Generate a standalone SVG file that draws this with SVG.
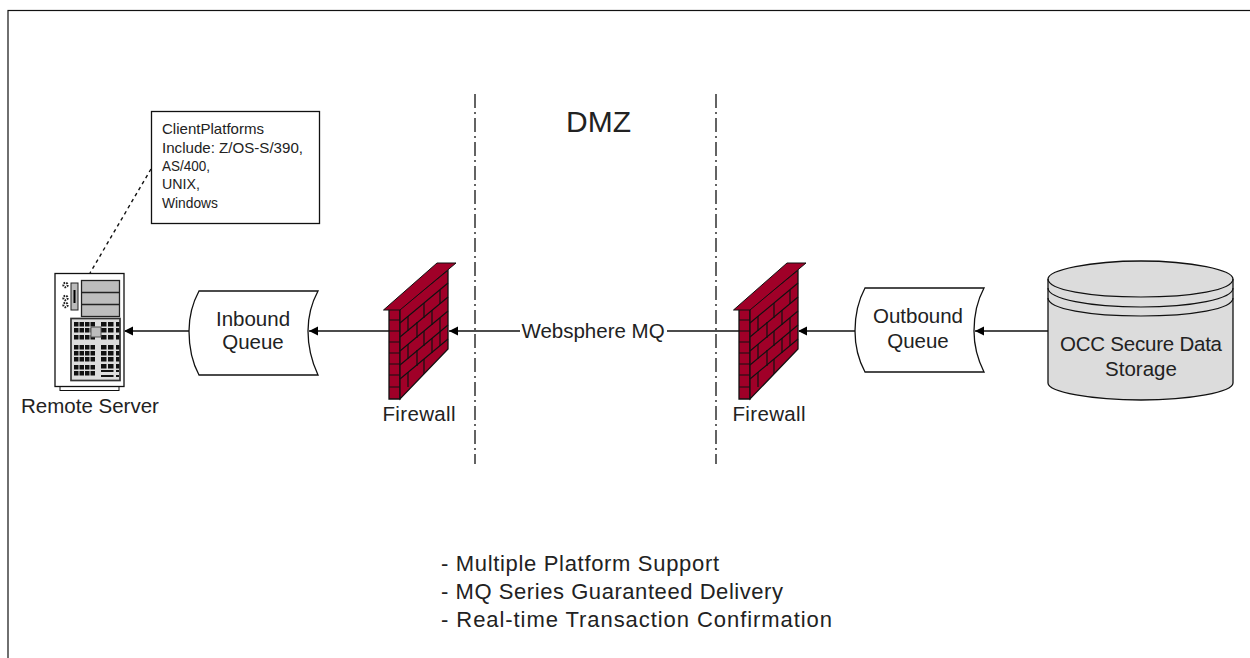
<svg xmlns="http://www.w3.org/2000/svg" width="1250" height="658" viewBox="0 0 1250 658">
<style>
text{font-family:"Liberation Sans",Arial,sans-serif;fill:#222;text-anchor:middle}
.l{font-size:20.500px}
.s{font-size:15px;text-anchor:start}
.b{font-size:22px;text-anchor:start}
.ln{stroke:#111;stroke-width:1.4;fill:none}
.sep{stroke:#222;stroke-width:1.4;stroke-dasharray:14 4 2 4;fill:none}
.k{fill:#111}
.gear{fill:#fff;stroke:#222;stroke-width:2;stroke-dasharray:1.500 1}
</style>
<defs>
<g id="wall">
<path d="M389 309H400V399H389Z" fill="#a00028" stroke="#111" stroke-width="1.300"/>
<path d="M400 309L448 270V349L400 399Z" fill="#a00028" stroke="#111" stroke-width="1.300"/>
<path d="M383.500 310L437 263H456L400 310Z" fill="#a00028" stroke="#111"/>
<path d="M389 320H400M389 331H400M389 342H400M389 353H400M389 364H400M389 375H400M389 387H400" stroke="#111" stroke-width="1.200"/>
<path d="M400 323L448 283M400 337L448 297M400 351L448 311M400 365L448 325M400 379L448 339" stroke="#111" fill="none" stroke-width="1.200"/>
<path d="M408 316V331M424 303V318M440 290V304M417 322V338M432 310V325M408 344V359M424 331V346M440 318V332M417 350V366M432 338V353M408 372V387M424 359V374M440 346V332" stroke="#111" fill="none" stroke-width="1.200"/>
</g>
<path id="arrow" d="M0 0l9-4.500v9Z" fill="#000"/>
<g id="keys"><rect x="0" y="0" width="4.500" height="4.500"/><rect x="5.500" y="0" width="4.500" height="4.500"/><rect x="11" y="0" width="4.500" height="4.500"/><rect x="16.500" y="0" width="4.500" height="4.500"/></g>
<g id="keys2"><rect x="0" y="0" width="5.500" height="4.500"/><rect x="7" y="0" width="5.500" height="4.500"/><rect x="15" y="0" width="3.500" height="4.500"/></g>
</defs>

<rect id="frame" x="8" y="10.500" width="1260" height="670" fill="#fff" stroke="#111" stroke-width="1.200"/>

<g id="connectors">
<path class="ln" d="M189 331H125"/><use href="#arrow" x="124" y="331"/>
<path class="ln" d="M389 331H309"/><use href="#arrow" x="309" y="331"/>
<path class="ln" d="M520 331H449"/><use href="#arrow" x="449" y="331"/>
<path class="ln" d="M739 331H667"/>
<path class="ln" d="M855 331H799"/><use href="#arrow" x="798" y="331"/>
<path class="ln" d="M1048 331H975"/><use href="#arrow" x="975" y="331"/>
<path class="ln" d="M151 169L90 273" stroke-dasharray="3.500 3.500"/>
<path class="sep" d="M475 94V464"/>
<path class="sep" d="M716 94V464"/>
</g>

<g id="note">
<rect x="151.500" y="111.500" width="168" height="112" fill="#fff" stroke="#111" stroke-width="1.300"/>
<text class="s" x="162" y="134" textLength="102" lengthAdjust="spacingAndGlyphs">ClientPlatforms</text>
<text class="s" x="162" y="153" textLength="141" lengthAdjust="spacingAndGlyphs">Include: Z/OS-S/390,</text>
<text class="s" x="162" y="171" textLength="48" lengthAdjust="spacingAndGlyphs">AS/400,</text>
<text class="s" x="162" y="189" textLength="38" lengthAdjust="spacingAndGlyphs">UNIX,</text>
<text class="s" x="162" y="208" textLength="56" lengthAdjust="spacingAndGlyphs">Windows</text>
</g>

<g id="remote-server">
<rect x="60" y="386" width="59" height="4.500" fill="#fff" stroke="#111"/>
<rect x="55" y="273.500" width="69" height="113" fill="#fff" stroke="#111" stroke-width="1.300"/>
<rect x="71" y="283" width="7" height="27" fill="#bbb" stroke="#222"/>
<path d="M74.500 290v13" stroke="#000" stroke-width="2"/>
<circle class="gear" cx="65.500" cy="285" r="2.200"/>
<circle class="gear" cx="65.500" cy="298" r="2.200"/>
<circle class="gear" cx="65.500" cy="305" r="2.200"/>
<rect x="81.500" y="280.500" width="38" height="36" fill="#bdbdbd" stroke="#222" stroke-width="1.300"/>
<path d="M81.500 292.500H119.500M81.500 304.500H119.500" stroke="#222" stroke-width="1.500"/>
<rect x="71" y="318.500" width="49" height="62" fill="#ddd" stroke="#333" stroke-width="1.700"/>
<g class="k">
<use href="#keys" x="74" y="322"/><use href="#keys" x="74" y="328"/><use href="#keys" x="74" y="335"/>
<use href="#keys" x="74" y="345"/><use href="#keys" x="74" y="351"/><use href="#keys" x="74" y="357"/>
<use href="#keys" x="74" y="365"/><use href="#keys" x="74" y="371"/>
<use href="#keys2" x="101" y="322"/><use href="#keys2" x="101" y="328"/><use href="#keys2" x="101" y="335"/>
<use href="#keys2" x="101" y="345"/><use href="#keys2" x="101" y="351"/><use href="#keys2" x="101" y="357"/>
<use href="#keys2" x="101" y="364"/>
<rect x="101" y="370" width="12.500" height="2"/><rect x="116" y="370" width="3" height="2"/>
<rect x="101" y="375" width="12.500" height="2"/><rect x="116" y="375" width="3" height="2"/>
</g>
<rect x="91" y="327" width="10" height="10" fill="#bdbdbd" stroke="#555"/>
<text class="l" x="90" y="413">Remote Server</text>
</g>

<g id="inbound-queue">
<path d="M199 291H318C311 304 308 318 308 331S311 360 318 375H199C192 362 189 345 189 331S192 304 199 291Z" fill="#fff" stroke="#111" stroke-width="1.300"/>
<text class="l" x="253" y="326">Inbound</text>
<text class="l" x="253" y="349">Queue</text>
</g>

<g id="firewall-1">
<use href="#wall"/>
<text class="l" x="419" y="421" textLength="73">Firewall</text>
</g>

<g id="websphere">
<text class="l" x="593" y="338">Websphere MQ</text>
</g>

<g id="dmz"><text x="598.500" y="132" style="font-size:30px">DMZ</text></g>

<g id="firewall-2">
<use href="#wall" x="350"/>
<text class="l" x="769" y="421" textLength="73">Firewall</text>
</g>

<g id="outbound-queue">
<path d="M865 288H984C977 301 974 318 974 331S977 358 984 372H865C858 359 855 345 855 331S858 301 865 288Z" fill="#fff" stroke="#111" stroke-width="1.300"/>
<text class="l" x="918" y="323">Outbound</text>
<text class="l" x="918" y="348">Queue</text>
</g>

<g id="storage">
<path d="M1048 279C1048 270 1090 261 1141 261S1233 270 1233 279V383C1233 392 1190 400 1141 400S1048 392 1048 383Z" fill="#dcdcdc" stroke="#111" stroke-width="1.300"/>
<path d="M1048 279C1048 290 1090 297 1141 297S1233 290 1233 279M1048 288C1048 299 1090 307 1141 307S1233 299 1233 288M1048 298C1048 309 1090 316 1141 316S1233 309 1233 298" fill="none" stroke="#111" stroke-width="1.200"/>
<text class="l" x="1141" y="351" textLength="162">OCC Secure Data</text>
<text class="l" x="1141" y="376">Storage</text>
</g>

<g id="notes">
<text class="b" x="441" y="571" textLength="278">- Multiple Platform Support</text>
<text class="b" x="441" y="599" textLength="342">- MQ Series Guaranteed Delivery</text>
<text class="b" x="441" y="627" textLength="391">- Real-time Transaction Confirmation</text>
</g>
</svg>
